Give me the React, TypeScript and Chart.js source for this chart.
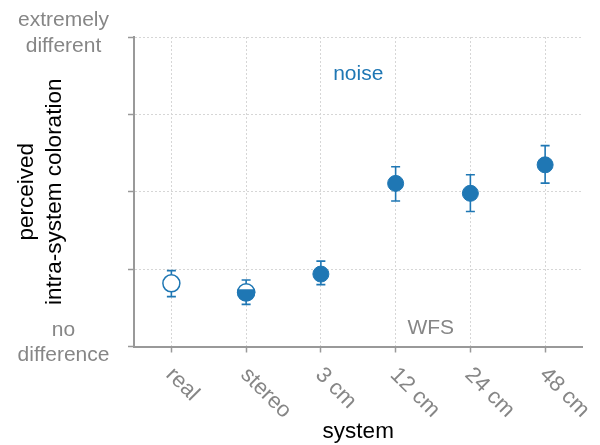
import React, { useEffect, useRef } from 'react';
import { Chart, registerables } from 'chart.js';

Chart.register(...registerables);

// ---- data ----
const categories = ['real', 'stereo', '3 cm', '12 cm', '24 cm', '48 cm'];
const means = [0.204, 0.175, 0.234, 0.527, 0.495, 0.587];
const errLow = [0.161, 0.136, 0.2, 0.47, 0.436, 0.528];
const errHigh = [0.245, 0.215, 0.276, 0.581, 0.555, 0.649];
const markerFill = ['open', 'half', 'filled', 'filled', 'filled', 'filled'];
const yTickValues = [0, 0.25, 0.5, 0.75, 1];
const yTickLabels: string[][] = [['no', 'difference'], [], [], [], ['extremely', 'different']];
const xTitle = 'system';
const yTitle = ['perceived', 'intra-system coloration'];
const noiseText = 'noise';
const noiseAt = { x: 2.5, y: 0.879 };
const wfsText = 'WFS';
const wfsAt = { x: 3.47, y: 0.058 };

// ---- styles ----
const BLUE = '#1f77b4';
const GRAY = '#868686';
const AXIS = '#999999';
const GRID = '#d6d6d6';
const FONT = "'Liberation Sans', Arial, Helvetica, sans-serif";

const customPlugin = {
  id: 'customDraw',
  beforeDatasetsDraw(chart: any) {
    const ctx = chart.ctx;
    const xs = chart.scales.x;
    const ys = chart.scales.y;
    ctx.save();
    ctx.strokeStyle = BLUE;
    ctx.lineWidth = 1.6;
    means.forEach((_m, i) => {
      const x = xs.getPixelForValue(i);
      const y1 = ys.getPixelForValue(errHigh[i]);
      const y2 = ys.getPixelForValue(errLow[i]);
      ctx.beginPath();
      ctx.moveTo(x, y1);
      ctx.lineTo(x, y2);
      ctx.moveTo(x - 4.5, y1);
      ctx.lineTo(x + 4.5, y1);
      ctx.moveTo(x - 4.5, y2);
      ctx.lineTo(x + 4.5, y2);
      ctx.stroke();
    });
    ctx.restore();
  },
  afterDatasetsDraw(chart: any) {
    const ctx = chart.ctx;
    const meta = chart.getDatasetMeta(0);
    markerFill.forEach((t, i) => {
      if (t !== 'half') return;
      const p = meta.data[i];
      ctx.save();
      ctx.beginPath();
      ctx.rect(p.x - 15, p.y - 3, 30, 20);
      ctx.clip();
      ctx.beginPath();
      ctx.arc(p.x, p.y, 9.2, 0, Math.PI * 2);
      ctx.fillStyle = BLUE;
      ctx.fill();
      ctx.restore();
    });
  },
  afterDraw(chart: any) {
    const ctx = chart.ctx;
    const xs = chart.scales.x;
    const ys = chart.scales.y;
    ctx.save();
    // x tick labels, rotated clockwise
    ctx.font = `22px ${FONT}`;
    ctx.fillStyle = GRAY;
    categories.forEach((c, i) => {
      const x = xs.getPixelForValue(i);
      ctx.save();
      ctx.translate(x - 2, ys.bottom + 25);
      ctx.rotate(Math.PI / 4);
      ctx.textAlign = 'left';
      ctx.textBaseline = 'middle';
      ctx.fillText(c, 0, 0);
      ctx.restore();
    });
    // y tick labels
    ctx.font = `21px ${FONT}`;
    ctx.textAlign = 'center';
    ctx.textBaseline = 'alphabetic';
    const cx = 63.5;
    yTickValues.forEach((v, i) => {
      const lines = yTickLabels[i];
      if (!lines.length) return;
      const y = ys.getPixelForValue(v);
      const spacing = 25.5;
      const start = y + 1.8 - ((lines.length - 1) * spacing) / 2;
      lines.forEach((l, k) => ctx.fillText(l, cx, start + k * spacing));
    });
    // annotations
    ctx.textBaseline = 'middle';
    ctx.fillStyle = BLUE;
    ctx.fillText(noiseText, xs.getPixelForValue(noiseAt.x), ys.getPixelForValue(noiseAt.y));
    ctx.fillStyle = GRAY;
    ctx.fillText(wfsText, xs.getPixelForValue(wfsAt.x), ys.getPixelForValue(wfsAt.y));
    ctx.restore();
  },
};

export default function App() {
  const ref = useRef<HTMLCanvasElement>(null);
  useEffect(() => {
    if (!ref.current) return;
    const chart = new Chart(ref.current, {
      type: 'line',
      data: {
        labels: categories,
        datasets: [
          {
            data: means,
            showLine: false,
            pointRadius: markerFill.map((t) => (t === 'filled' ? 8 : 8.5)),
            pointBorderWidth: markerFill.map((t) => (t === 'filled' ? 1 : 1.5)),
            pointBorderColor: BLUE,
            pointBackgroundColor: markerFill.map((t) => (t === 'filled' ? BLUE : '#ffffff')),
          },
        ],
      },
      options: {
        animation: false,
        responsive: false,
        devicePixelRatio: 1,
        events: [],
        layout: { padding: { top: 37, right: 17.5, bottom: 0, left: 0 } },
        plugins: { legend: { display: false }, tooltip: { enabled: false } },
        scales: {
          x: {
            type: 'category',
            offset: true,
            ticks: { display: false },
            grid: {
              color: GRID,
              lineWidth: 1,
              drawTicks: true,
              tickLength: 6,
              tickColor: AXIS,
              tickWidth: 1.5,
              tickBorderDash: [],
            },
            border: { display: true, color: AXIS, width: 2, dash: [2, 2] },
            title: {
              display: true,
              text: xTitle,
              color: '#000',
              font: { family: FONT, size: 22.5, lineHeight: 1 },
              padding: { top: 0, bottom: 1.5 },
            },
            afterFit: (s: any) => {
              s.height = 98.5;
            },
          },
          y: {
            type: 'linear',
            min: 0,
            max: 1,
            afterBuildTicks: (s: any) => {
              s.ticks = yTickValues.map((v) => ({ value: v }));
            },
            ticks: { display: false },
            grid: {
              color: GRID,
              lineWidth: 1,
              drawTicks: true,
              tickLength: 6,
              tickColor: AXIS,
              tickWidth: 1.5,
              tickBorderDash: [],
            },
            border: { display: true, color: AXIS, width: 2, dash: [2, 2] },
            title: {
              display: true,
              text: yTitle,
              color: '#000',
              font: { family: FONT, size: 22.5, lineHeight: 1.24 },
              padding: { top: 12.5, bottom: 0 },
            },
            afterFit: (s: any) => {
              s.width = 134;
            },
          },
        },
      },
      plugins: [customPlugin],
    } as any);
    return () => chart.destroy();
  }, []);
  return (
    <div style={{ position: 'absolute', left: 0, top: 0, width: 600, height: 445 }}>
      <canvas ref={ref} width={600} height={445} style={{ width: 600, height: 445 }} />
    </div>
  );
}
